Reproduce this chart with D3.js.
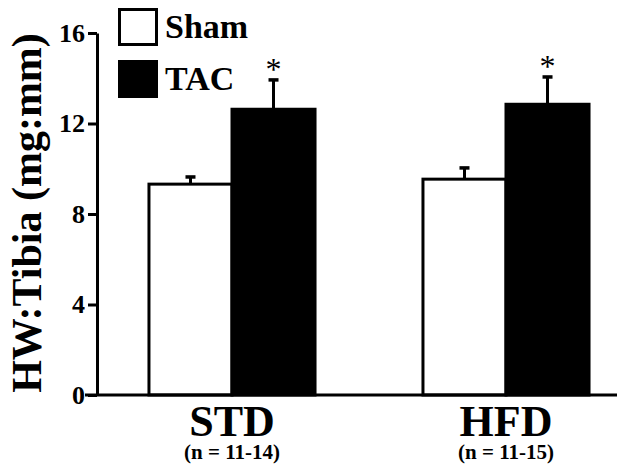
<!DOCTYPE html>
<html><head><meta charset="utf-8">
<script src="https://cdn.jsdelivr.net/npm/d3@7"></script>
<style>html,body{margin:0;padding:0;background:#fff;} svg text{font-family:"Liberation Serif","Times New Roman","DejaVu Serif",serif;}</style>
</head><body>
<svg id="c" width="624" height="467"></svg>
<script>
const groups = ["STD", "HFD"];
const groupN = ["(n = 11-14)", "(n = 11-15)"];
const series = ["Sham", "TAC"];
const shamMean = [9.32, 9.54];
const shamErr = [0.35, 0.53];
const tacMean = [12.63, 12.85];
const tacErr = [1.33, 1.24];
const significant = [true, true];
const yTicks = [0, 4, 8, 12, 16];
const yTitle = "HW:Tibia (mg:mm)";

const svg = d3.select("#c");
const y = d3.scaleLinear().domain([0, 16]).range([395, 33]);
const x0 = d3.scaleBand().domain(groups).range([95, 643]);
const x1 = d3.scaleBand().domain(series).range([0, x0.bandwidth()]).paddingOuter(0.65);

const data = groups.map((g, i) => ({g, i, vals: [
  {s: "Sham", m: shamMean[i], e: shamErr[i]},
  {s: "TAC", m: tacMean[i], e: tacErr[i]}]}));

// bars
const gg = svg.selectAll("g.grp").data(data).join("g")
  .attr("transform", d => `translate(${x0(d.g)},0)`);
gg.selectAll("line.err").data(d => d.vals).join("line")
  .attr("x1", d => x1(d.s) + x1.bandwidth()/2).attr("x2", d => x1(d.s) + x1.bandwidth()/2)
  .attr("y1", d => y(d.m)).attr("y2", d => y(d.m + d.e))
  .attr("stroke", "#000").attr("stroke-width", 3);
gg.selectAll("rect.cap").data(d => d.vals).join("rect")
  .attr("x", d => x1(d.s) + x1.bandwidth()/2 - 5).attr("width", 10)
  .attr("y", d => y(d.m + d.e) - 1).attr("height", 3.5).attr("fill", "#000");
gg.selectAll("rect.bar").data(d => d.vals).join("rect")
  .attr("x", d => x1(d.s)).attr("width", x1.bandwidth())
  .attr("y", d => y(d.m)).attr("height", d => y(0) - y(d.m))
  .attr("fill", d => d.s === "Sham" ? "#fff" : "#000")
  .attr("stroke", "#000").attr("stroke-width", 3);
// asterisks
gg.filter(d => significant[d.i]).append("text")
  .attr("x", x1("TAC") + x1.bandwidth()/2)
  .attr("y", d => y(d.vals[1].m + d.vals[1].e) + 1)
  .attr("text-anchor", "middle").attr("font-size", 32)
  .text("*");

// x axis line
svg.append("line").attr("x1", 85).attr("x2", 617).attr("y1", y(0)).attr("y2", y(0))
  .attr("stroke", "#000").attr("stroke-width", 3);
// group labels
svg.selectAll("text.gl").data(groups).join("text")
  .attr("x", d => x0(d) + x0.bandwidth()/2).attr("y", 436)
  .attr("text-anchor", "middle").attr("font-weight", "bold")
  .attr("font-size", 44).text(d => d);
svg.selectAll("text.gn").data(groupN).join("text")
  .attr("x", (d, i) => x0(groups[i]) + x0.bandwidth()/2).attr("y", 459)
  .attr("text-anchor", "middle").attr("font-weight", "bold")
  .attr("font-size", 21).text(d => d);

// y axis
const ya = svg.append("g").attr("transform", "translate(97,0)")
  .call(d3.axisLeft(y).tickValues(yTicks).tickSize(9).tickSizeOuter(0).tickPadding(3));
ya.attr("font-family", null);
ya.select(".domain").attr("stroke", "#000").attr("stroke-width", 3);
ya.selectAll(".tick line").attr("stroke", "#000").attr("stroke-width", 3);
ya.selectAll(".tick text").attr("font-weight", "bold")
  .attr("font-size", 26).attr("fill", "#000");

// y title
svg.append("text").attr("transform", "translate(41,213) rotate(-90)")
  .attr("text-anchor", "middle").attr("font-weight", "bold")
  .attr("font-size", 42).text(yTitle);

// legend
const lg = svg.selectAll("g.lg").data(series).join("g")
  .attr("transform", (d, i) => `translate(119.5,${9.5 + i * 52})`);
lg.append("rect").attr("width", 37).attr("height", 35)
  .attr("fill", d => d === "Sham" ? "#fff" : "#000").attr("stroke", "#000").attr("stroke-width", 3);
lg.append("text").attr("x", 45.5).attr("y", 28.5).attr("font-weight", "bold")
  .attr("font-size", 34).text(d => d);
</script>
</body></html>
